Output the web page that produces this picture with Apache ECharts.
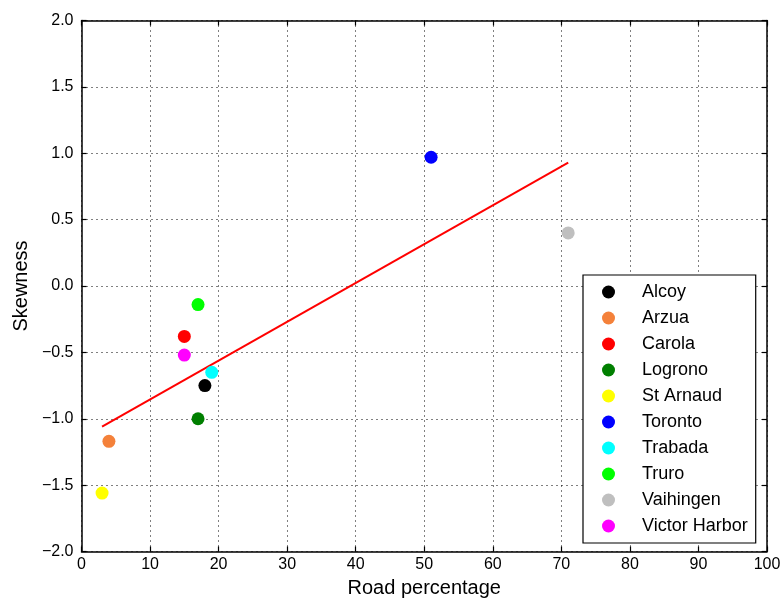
<!DOCTYPE html>
<html>
<head>
<meta charset="utf-8">
<script src="https://cdn.jsdelivr.net/npm/echarts@6/dist/echarts.min.js"></script>
<style>
  html, body { margin: 0; padding: 0; background: #fff; }
  #chart { width: 783px; height: 601px; }
</style>
</head>
<body>
<div id="chart"></div>
<script>
// places, road percentage (x) and skewness (y)
const places = ['Alcoy', 'Arzua', 'Carola', 'Logrono', 'St Arnaud', 'Toronto', 'Trabada', 'Truro', 'Vaihingen', 'Victor Harbor'];
const roadPct = [18, 4, 15, 17, 3, 51, 19, 17, 71, 15];
const skewness = [-0.75, -1.17, -0.38, -1.0, -1.56, 0.97, -0.65, -0.14, 0.40, -0.52];
const colors = ['#000000', '#f4813a', '#ff0000', '#007f00', '#ffff00', '#0000ff', '#00ffff', '#00ff00', '#bfbfbf', '#ff00ff'];

// fitted line end points
const fitX = [3, 71];
const fitY = [-1.06, 0.93];

const font = 'Liberation Sans, Arial, sans-serif';
const minus = v => String(v).replace('-', '\u2212');

const chart = echarts.init(document.getElementById('chart'));

const series = places.map((name, i) => ({
  name: name,
  type: 'scatter',
  symbol: 'circle',
  symbolSize: 13,
  itemStyle: { color: colors[i], opacity: 1 },
  data: [[roadPct[i], skewness[i]]],
  z: 3
}));

series.push({
  name: 'fit',
  type: 'line',
  showSymbol: false,
  silent: true,
  lineStyle: { color: '#ff0000', width: 2 },
  data: fitX.map((x, i) => [x, fitY[i]]),
  z: 2
});

const frameAxis = {
  axisLine: { show: true, onZero: false, lineStyle: { color: '#000', width: 1.5 } },
  axisTick: { show: true, inside: true, length: 5, lineStyle: { color: '#000', width: 1.2 } },
  axisLabel: { show: false },
  splitLine: { show: false }
};

chart.setOption({
  animation: false,
  backgroundColor: '#fff',
  grid: { left: 81.5, right: 16, top: 20.5, bottom: 49.5, containLabel: false, outerBoundsMode: 'none' },
  xAxis: [{
    type: 'value', min: 0, max: 100, interval: 10,
    name: 'Road percentage', nameLocation: 'middle', nameGap: 27,
    nameTextStyle: { fontFamily: font, fontSize: 20, color: '#000' },
    axisLine: { show: true, onZero: false, lineStyle: { color: '#000', width: 1.5 } },
    axisTick: { show: true, inside: true, length: 5, lineStyle: { color: '#000', width: 1.2 } },
    axisLabel: { fontFamily: font, fontSize: 16, color: '#000', margin: 5 },
    splitLine: { show: true, lineStyle: { color: '#000', type: [1, 4], width: 1 } }
  }, Object.assign({ type: 'value', min: 0, max: 100, interval: 10, position: 'top' }, frameAxis)],
  yAxis: [{
    type: 'value', min: -2, max: 2, interval: 0.5,
    name: 'Skewness', nameLocation: 'middle', nameGap: 48,
    nameTextStyle: { fontFamily: font, fontSize: 20, color: '#000' },
    axisLine: { show: true, onZero: false, lineStyle: { color: '#000', width: 1.5 } },
    axisTick: { show: true, inside: true, length: 5, lineStyle: { color: '#000', width: 1.2 } },
    axisLabel: { fontFamily: font, fontSize: 16, color: '#000', margin: 8, formatter: v => minus(v.toFixed(1)) },
    splitLine: { show: true, lineStyle: { color: '#000', type: [1, 4], width: 1 } }
  }, Object.assign({ type: 'value', min: -2, max: 2, interval: 0.5, position: 'right' }, frameAxis)],
  legend: {
    data: places.map(p => ({ name: p, icon: 'circle' })),
    orient: 'vertical',
    left: 583, top: 275,
    width: 174,
    backgroundColor: '#fff',
    borderColor: '#000', borderWidth: 1.2,
    padding: [8, 8, 8, 19],
    itemWidth: 13, itemHeight: 13, itemGap: 8,
    textStyle: { fontFamily: font, fontSize: 18, color: '#000', padding: [0, 0, 0, 22] },
    selectedMode: false
  },
  series: series
});
</script>
</body>
</html>
